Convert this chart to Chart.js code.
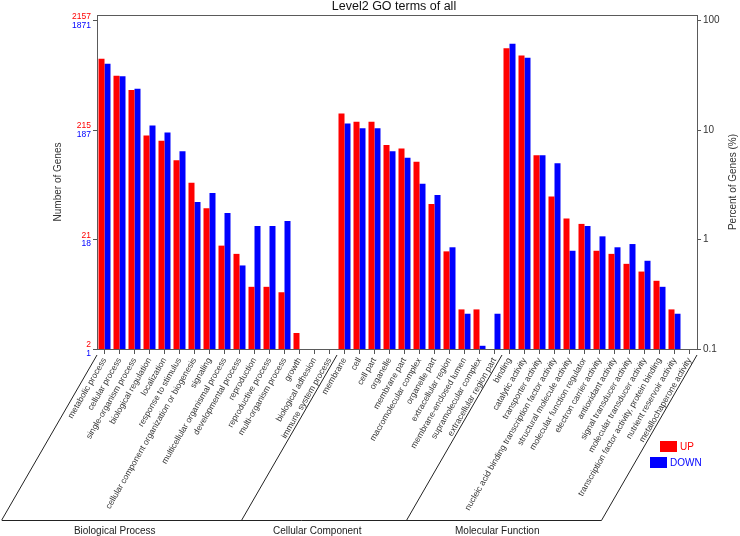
<!DOCTYPE html>
<html>
<head>
<meta charset="utf-8">
<title>Level2 GO terms of all</title>
<script src="https://cdn.jsdelivr.net/npm/chart.js@4.4.1/dist/chart.umd.min.js"></script>
<style>
  html, body { margin: 0; padding: 0; background: #fff; }
  #wrap { width: 740px; height: 536px; }
</style>
</head>
<body>
<div id="wrap"><canvas id="goChart" width="740" height="536"></canvas></div>
<script>
// --- Data ---
const categories = [
  // Biological Process
  'metabolic process', 'cellular process', 'single-organism process', 'biological regulation',
  'localization', 'response to stimulus', 'cellular component organization or biogenesis',
  'signaling', 'multicellular organismal process', 'developmental process', 'reproduction',
  'reproductive process', 'multi-organism process', 'growth', 'biological adhesion',
  'immune system process',
  // Cellular Component
  'membrane', 'cell', 'cell part', 'organelle', 'membrane part', 'macromolecular complex',
  'organelle part', 'extracellular region', 'membrane-enclosed lumen', 'supramolecular complex',
  'extracellular region part',
  // Molecular Function
  'binding', 'catalytic activity', 'transporter activity',
  'nucleic acid binding transcription factor activity', 'structural molecule activity',
  'molecular function regulator', 'electron carrier activity', 'antioxidant activity',
  'signal transducer activity', 'molecular transducer activity',
  'transcription factor activity, protein binding', 'nutrient reservoir activity',
  'metallochaperone activity'
];

// percent of genes (%)
const upPercent = [
  44.9, 31.4, 23.2, 8.95, 8.0, 5.3, 3.3, 1.93, 0.88, 0.74, 0.37, 0.37, 0.33, 0.14, null, null,
  14.2, 11.9, 11.9, 7.3, 6.8, 5.15, 2.11, 0.78, 0.23, 0.23, null,
  56, 48.1, 5.9, 2.48, 1.56, 1.39, 0.79, 0.74, 0.6, 0.51, 0.42, 0.23, null
];
const downPercent = [
  40.4, 31.0, 23.9, 11.0, 9.5, 6.4, 2.2, 2.66, 1.75, 0.58, 1.33, 1.33, 1.48, null, null, null,
  11.5, 10.4, 10.4, 6.4, 5.6, 3.23, 2.55, 0.85, 0.21, 0.107, 0.21,
  61.4, 45.8, 5.9, 4.98, 0.79, 1.33, 1.07, 0.85, 0.91, 0.64, 0.37, 0.21, null
];

const groupNames = ['Biological Process', 'Cellular Component', 'Molecular Function'];
const groupStarts = [0, 16, 27];

const tickValues = [0.1, 1, 10, 100];
const percentTickLabels = ['0.1', '1', '10', '100'];
const upCountLabels = ['2', '21', '215', '2157'];
const downCountLabels = ['1', '18', '187', '1871'];

// --- Settings ---
const RED = '#ff0000';
const BLUE = '#0000ff';
const FONT = '"Liberation Sans", Arial, sans-serif';
const AXIS_MAX = 112.7;

/** Draw frame, titles, count labels, group bands and legend **/
const decorPlugin = {
  id: 'goDecor',
  afterDraw(chart) {
    const { ctx, chartArea: a, scales } = chart;
    const x = scales.x, y = scales.y;
    ctx.save();

    // plot frame
    ctx.strokeStyle = '#5a5a5a';
    ctx.lineWidth = 1;
    ctx.strokeRect(Math.round(a.left) + 0.5, Math.round(a.top) + 0.5,
      Math.round(a.right - a.left), Math.round(a.bottom - a.top));

    // title
    ctx.fillStyle = '#111';
    ctx.font = '12.5px ' + FONT;
    ctx.textAlign = 'center';
    ctx.textBaseline = 'alphabetic';
    ctx.fillText('Level2 GO terms of all', (a.left + a.right) / 2 - 3, 10);

    // axis titles
    ctx.font = '10px ' + FONT;
    ctx.fillStyle = '#333';
    ctx.textBaseline = 'middle';
    const midY = (a.top + a.bottom) / 2;
    ctx.save();
    ctx.translate(58, midY);
    ctx.rotate(-Math.PI / 2);
    ctx.fillText('Number of Genes', 0, 0);
    ctx.restore();
    ctx.save();
    ctx.translate(733, midY);
    ctx.rotate(-Math.PI / 2);
    ctx.fillText('Percent of Genes (%)', 0, 0);
    ctx.restore();

    // gene count labels on the left axis
    ctx.font = '8.5px ' + FONT;
    ctx.textAlign = 'right';
    tickValues.forEach((v, i) => {
      const py = y.getPixelForValue(v);
      ctx.fillStyle = RED;
      ctx.fillText(upCountLabels[i], a.left - 6, py - 4);
      ctx.fillStyle = BLUE;
      ctx.fillText(downCountLabels[i], a.left - 6, py + 4.5);
    });

    // group bands below the axis
    const step = x.getPixelForValue(1) - x.getPixelForValue(0);
    const edges = groupStarts.concat([categories.length])
      .map(i => x.getPixelForValue(Math.min(i, categories.length - 1)) + (i < categories.length ? -step / 2 : step / 2));
    const topY = a.bottom + 6;
    const botY = 520;
    const shift = (botY - topY) / Math.tan(Math.PI / 3);
    ctx.strokeStyle = '#222';
    ctx.lineWidth = 1;
    ctx.beginPath();
    edges.forEach(ex => {
      ctx.moveTo(ex, topY);
      ctx.lineTo(ex - shift, botY);
    });
    ctx.moveTo(edges[0] - shift, botY + 0.5);
    ctx.lineTo(edges[edges.length - 1] - shift, botY + 0.5);
    ctx.stroke();

    ctx.fillStyle = '#222';
    ctx.font = '10px ' + FONT;
    ctx.textAlign = 'center';
    groupNames.forEach((name, i) => {
      const cx = (edges[i] + edges[i + 1]) / 2 - shift - 7;
      ctx.fillText(name, cx, 531);
    });

    // legend
    ctx.textAlign = 'left';
    ctx.fillStyle = RED;
    ctx.fillRect(660, 441, 17, 11);
    ctx.fillText('UP', 680, 447);
    ctx.fillStyle = BLUE;
    ctx.fillRect(650, 457, 17, 11);
    ctx.fillText('DOWN', 670, 463);

    ctx.restore();
  }
};

const logAxis = (position, width, labelFn) => ({
  type: 'logarithmic',
  position: position,
  min: 0.1,
  max: AXIS_MAX,
  afterBuildTicks(scale) { scale.ticks = tickValues.map(v => ({ value: v })); },
  ticks: {
    callback: labelFn,
    color: '#333',
    padding: 2,
    font: { size: 10, family: FONT }
  },
  grid: { drawOnChartArea: false, tickLength: 4, color: '#555' },
  border: { display: false },
  afterFit(scale) { scale.width = width; }
});

new Chart(document.getElementById('goChart'), {
  type: 'bar',
  data: {
    labels: categories,
    datasets: [
      { label: 'UP', data: upPercent, backgroundColor: RED, borderWidth: 0, yAxisID: 'y' },
      { label: 'DOWN', data: downPercent, backgroundColor: BLUE, borderWidth: 0, yAxisID: 'y' }
    ]
  },
  options: {
    responsive: false,
    animation: false,
    layout: { padding: { top: 15, left: 0, right: 0, bottom: 0 } },
    datasets: { bar: { categoryPercentage: 0.8, barPercentage: 1.0 } },
    plugins: { legend: { display: false }, title: { display: false }, tooltip: { enabled: false } },
    scales: {
      x: {
        type: 'category',
        offset: true,
        grid: { drawOnChartArea: false, drawTicks: true, tickLength: 5, offset: false, color: '#555' },
        border: { display: false },
        ticks: {
          autoSkip: false,
          minRotation: 60,
          maxRotation: 60,
          padding: 2,
          color: '#333',
          font: { size: 8.5, family: FONT }
        },
        afterFit(scale) { scale.height = 187; }
      },
      y: logAxis('left', 97, () => ''),
      y2: logAxis('right', 43, (v, i) => percentTickLabels[i])
    }
  },
  plugins: [decorPlugin]
});
</script>
</body>
</html>
